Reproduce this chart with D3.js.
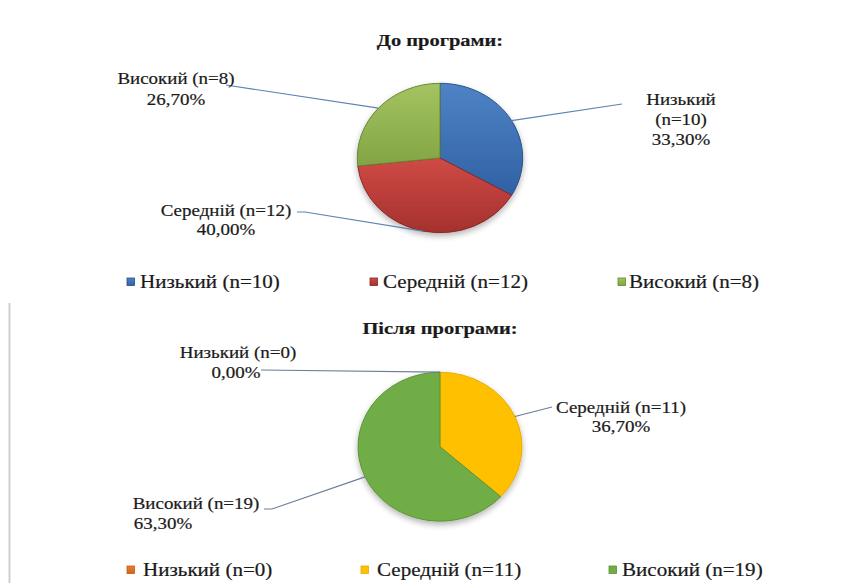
<!DOCTYPE html>
<html>
<head>
<meta charset="utf-8">
<script src="https://cdn.jsdelivr.net/npm/d3@7"></script>
<style>
  body { margin: 0; background: #fff; }
  svg { display: block; }
</style>
</head>
<body>
<svg id="chart" width="860" height="583"></svg>
<script>
// data
var categories = ["Низький", "Середній", "Високий"];
var beforeCounts = [10, 12, 8];
var beforePercents = [33.3, 40.0, 26.7];
var afterCounts = [0, 11, 19];
var afterPercents = [0.0, 36.7, 63.3];
var titles = ["До програми:", "Після програми:"];

var svg = d3.select("#chart"),
    SX = 1.17; // the picture is stretched sideways

var fmt = function(p) { return p.toFixed(2).replace(".", ",") + "%"; };

var charts = [
  {
    title: titles[0], counts: beforeCounts, percents: beforePercents,
    cx: 440, cy: 158, rx: 82.7, ry: 74.7, titleY: 46, legendY: 288,
    fills: [["#4e83c6", "#3061a3"], ["#cf4a46", "#a5312d"], ["#a3c460", "#83a444"]],
    strokes: ["#274d82", "#852724", "#66842f"],
    leader: "#5c83b3",
    labels: [
      { lines: [[681, 105], [681, 125], [681, 145]], split: true, from: [[622, 104]] },
      { lines: [[226, 216], [226, 235]], from: [[297, 212], [305, 212]] },
      { lines: [[176, 84], [176, 105]], from: [[226, 85]] }
    ],
    legend: [[127, 140], [370, 383], [618, 629]]
  },
  {
    title: titles[1], counts: afterCounts, percents: afterPercents,
    cx: 440, cy: 446.7, rx: 82, ry: 74.5, titleY: 334, legendY: 576,
    fills: [["#ed7d31", "#d0661e"], ["#ffc000", "#ffc000"], ["#70ad47", "#70ad47"]],
    strokes: ["#c55a11", "#e5ab00", "#5a9235"],
    leader: "#6a7f99",
    labels: [
      { lines: [[238, 358], [236, 378]], from: [[261, 370]] },
      { lines: [[621, 413], [621, 432]], from: [[552, 407]] },
      { lines: [[196, 509], [163, 529]], from: [[264, 509], [272, 509]] }
    ],
    legend: [[127, 143], [361, 377], [609, 622]]
  }
];

var defs = svg.append("defs");
var shadow = defs.append("filter").attr("id", "shadow")
  .attr("x", "-20%").attr("y", "-20%").attr("width", "140%").attr("height", "140%");
shadow.append("feGaussianBlur").attr("in", "SourceAlpha").attr("stdDeviation", 3);
shadow.append("feOffset").attr("dy", 3).attr("result", "b");
shadow.append("feComponentTransfer").append("feFuncA").attr("type", "linear").attr("slope", 0.3);
var merge = shadow.append("feMerge");
merge.append("feMergeNode");
merge.append("feMergeNode").attr("in", "SourceGraphic");

function stext(g, x, y, str, size, anchor, weight) {
  return g.append("text")
    .attr("transform", "translate(" + x + "," + y + ") scale(" + SX + ",1)")
    .attr("text-anchor", anchor || "middle")
    .attr("font-family", "'Liberation Serif', 'Times New Roman', serif")
    .attr("font-size", size)
    .attr("font-weight", weight || "normal")
    .attr("fill", "#1a1a1a")
    .attr("stroke", "#1a1a1a")
    .attr("stroke-width", 0.2)
    .text(str);
}

// left edge rule of the lower panel
svg.append("line")
  .attr("x1", 9.5).attr("x2", 9.5).attr("y1", 303).attr("y2", 583)
  .attr("stroke", "#cfcfcf").attr("stroke-width", 2);

charts.forEach(function(c, ci) {
  var g = svg.append("g");

  stext(g, c.cx, c.titleY, c.title, 17.5, "middle", "bold");

  c.fills.forEach(function(f, i) {
    var gr = defs.append("linearGradient").attr("id", "grad" + ci + "_" + i)
      .attr("x1", 0).attr("y1", 0).attr("x2", 0).attr("y2", 1);
    gr.append("stop").attr("offset", "0%").attr("stop-color", f[0]);
    gr.append("stop").attr("offset", "100%").attr("stop-color", f[1]);
  });

  var pie = d3.pie().sort(null).value(function(d) { return d; });
  var arcs = pie(c.percents);
  var arc = d3.arc().innerRadius(0).outerRadius(c.ry);

  var pg = g.append("g")
    .attr("transform", "translate(" + c.cx + "," + c.cy + ") scale(" + (c.rx / c.ry) + ",1)")
    .attr("filter", "url(#shadow)");

  pg.selectAll("path")
    .data(arcs)
    .join("path")
    .attr("d", arc)
    .attr("fill", function(d, i) { return "url(#grad" + ci + "_" + i + ")"; })
    .attr("stroke", function(d, i) { return c.strokes[i]; })
    .attr("stroke-width", 0.9)
    .attr("stroke-linejoin", "round");

  // leader lines and data labels
  arcs.forEach(function(a, i) {
    var L = c.labels[i],
        mid = (a.startAngle + a.endAngle) / 2,
        edge = [c.cx + c.rx * Math.sin(mid), c.cy - c.ry * Math.cos(mid)];
    g.append("path")
      .attr("d", d3.line()(L.from.concat([edge])))
      .attr("fill", "none")
      .attr("stroke", c.leader)
      .attr("stroke-width", 1.2);

    var name = categories[i], n = "(n=" + c.counts[i] + ")", pct = fmt(c.percents[i]);
    var lines = L.split ? [name, n, pct] : [name + " " + n, pct];
    lines.forEach(function(s, k) {
      stext(g, L.lines[k][0], L.lines[k][1], s, 16.2);
    });
  });

  // legend
  categories.forEach(function(name, i) {
    var p = c.legend[i];
    g.append("rect")
      .attr("x", p[0]).attr("y", c.legendY - 10)
      .attr("width", 7.5).attr("height", 7.5)
      .attr("fill", "url(#grad" + ci + "_" + i + ")")
      .attr("stroke", c.strokes[i]).attr("stroke-width", 0.8);
    stext(g, p[1], c.legendY, name + " (n=" + c.counts[i] + ")", 18, "start");
  });
});
</script>
</body>
</html>
